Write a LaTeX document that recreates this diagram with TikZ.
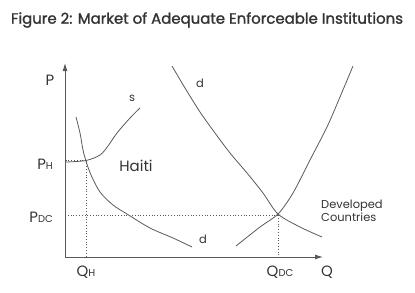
\documentclass[tikz,border=0pt]{standalone}
\usepackage{fontspec}
\setmainfont{Poppins}
\newfontfamily\titlefont[FakeBold=1.5]{Poppins}
\usetikzlibrary{arrows.meta}

\newcommand{\lblsub}[1]{{\fontsize{10}{10}\selectfont #1}}

\begin{document}
\begin{tikzpicture}[x=1bp, y=-1bp, >={Latex[length=8bp, width=5bp]}]

% ---------------------------------------------------------------------------
% Color aliases and styles
% ---------------------------------------------------------------------------
\colorlet{lineColor}{black!65}
\colorlet{textColor}{black!80}
\tikzset{
    curve/.style={lineColor, line width=0.8bp},
    guide/.style={lineColor, dotted, line width=0.8bp},
    lbl/.style={text=textColor, inner sep=0pt, font=\fontsize{15}{15}\selectfont},
    smalllbl/.style={text=textColor, inner sep=0pt, font=\fontsize{11.5}{13}\selectfont}
}

\useasboundingbox (0,0) rectangle (415,293);

% ---------------------------------------------------------------------------
% Title
% ---------------------------------------------------------------------------
\node[text=textColor, inner sep=0pt, font=\titlefont\fontsize{15}{15}\selectfont]
    (title) at (207,20) {Figure 2: Market of Adequate Enforceable Institutions};

% ---------------------------------------------------------------------------
% Axes
% ---------------------------------------------------------------------------
\coordinate (O) at (65,257);
\coordinate (Ptop) at (65,63);
\coordinate (Qend) at (323,257);
\draw[->, lineColor, line width=0.9bp] (O) -- (Ptop);
\draw[->, lineColor, line width=0.9bp] (O) -- (Qend);

\node[lbl] (P) at (50,80.5) {P};
\node[lbl] (Q) at (327,272) {Q};

% ---------------------------------------------------------------------------
% Equilibrium points
% ---------------------------------------------------------------------------
\coordinate (eqH) at (86,160.7);
\coordinate (eqDC) at (278,215.3);

% Dotted guides to the axes
\draw[guide] (eqH) -- (eqH -| O);
\draw[guide] (eqH) -- (eqH |- O);
\draw[guide] (eqDC) -- (eqDC -| O);
\draw[guide] (eqDC) -- (eqDC |- O);

\node[lbl, anchor=east] (PH) at (53,164) {P\lblsub{H}};
\node[lbl, anchor=east] (PDC) at (53,217) {P\lblsub{DC}};
\node[lbl] (QH) at (86,272) {Q\lblsub{H}};
\node[lbl] (QDC) at (280,272) {Q\lblsub{DC}};

% ===========================================================================
%  HAITI  -- supply s and demand d
% ===========================================================================
\draw[curve] plot[smooth] coordinates {(66,162) (86,160.5) (100,155)
    (108,146) (117,133) (130,118) (140,108)};
\node[smalllbl] (sH) at (132,98) {s};

\draw[curve] plot[smooth] coordinates {(76,117) (80,133) (83,150) (86,161)
    (91,175) (100,192) (113,205) (127,214) (150,228) (173,238) (192,247)};
\node[smalllbl] (dH) at (203,239) {d};

\node[lbl] (haiti) at (136,166) {Haiti};

% ===========================================================================
%  DEVELOPED COUNTRIES  -- supply and demand d
% ===========================================================================
\draw[curve] plot[smooth] coordinates {(172,66) (185,88) (200,112) (215,133)
    (230,153) (247,173) (263,193) (278,214) (300,227) (322,237)};
\node[smalllbl] (dDC) at (200,83) {d};

\draw[curve] plot[smooth] coordinates {(236,246) (260,227) (278,214)
    (293,193) (310,160) (327,127) (340,97) (353,66)};

\node[smalllbl, anchor=north west, align=left] (dev) at (321,200)
    {Developed\\Countries};

\end{tikzpicture}
\end{document}
